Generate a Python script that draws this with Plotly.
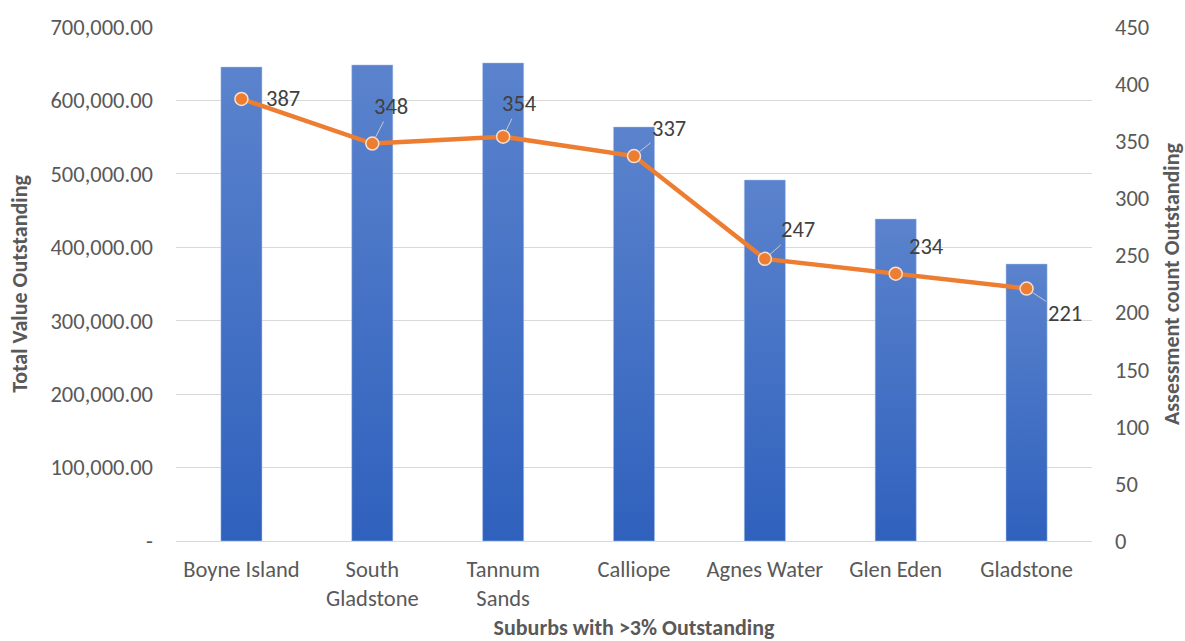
import plotly.graph_objects as go

# Suburbs and their outstanding figures
suburbs = ["Boyne Island", "South Gladstone", "Tannum Sands", "Calliope",
           "Agnes Water", "Glen Eden", "Gladstone"]
tick_text = ["Boyne Island", "South<br>Gladstone", "Tannum<br>Sands", "Calliope",
             "Agnes Water", "Glen Eden", "Gladstone"]
total_value = [645500, 648300, 651000, 563800, 491600, 438500, 377200]
assessment_count = [387, 348, 354, 337, 247, 234, 221]

left_ticks = [0, 100000, 200000, 300000, 400000, 500000, 600000, 700000]
left_tick_text = ["-" if v == 0 else f"{v:,.2f}" for v in left_ticks]

FONT = "Carlito, Lato, sans-serif"
GREY = "#595959"
TICK_SIZE = 22.5
TITLE_SIZE = 22
BAR_HALF = 0.157

fig = go.Figure()

# Columns drawn as filled polygons so each can carry a vertical gradient
for i, (name, val) in enumerate(zip(suburbs, total_value)):
    fig.add_trace(go.Scatter(
        x=[i - BAR_HALF, i + BAR_HALF, i + BAR_HALF, i - BAR_HALF, i - BAR_HALF],
        y=[0, 0, val, val, 0],
        mode="lines", fill="toself",
        line=dict(width=0.6, color="rgba(170,195,235,0.8)"),
        fillgradient=dict(type="vertical",
                          colorscale=[[0, "#2F61BD"], [1, "#5B83CD"]]),
        name=name, showlegend=False, hoverinfo="skip",
        xaxis="x", yaxis="y",
    ))

fig.add_trace(go.Scatter(
    x=list(range(len(suburbs))), y=assessment_count,
    mode="lines+markers",
    line=dict(color="#ED7D31", width=4.5),
    marker=dict(size=13, color="#ED7D31",
                line=dict(color="rgba(255,235,220,0.9)", width=1.5)),
    yaxis="y2", showlegend=False,
))

# Data labels: (x shift, y shift, leader line)
label_offsets = [(42, 0, False), (19, -37, True), (16, -33, True), (35, -28, True),
                 (33, -29, True), (31, -27, False), (38, 25, True)]
for i, (cnt, (dx, dy, lead)) in enumerate(zip(assessment_count, label_offsets)):
    common = dict(x=i, y=cnt, xref="x", yref="y2", text=str(cnt),
                  font=dict(family=FONT, size=TICK_SIZE, color="#404040"))
    if lead:
        fig.add_annotation(**common, showarrow=True, arrowhead=0, arrowwidth=1,
                           arrowcolor="#c8c8c8", ax=dx, ay=dy, standoff=6)
    else:
        fig.add_annotation(**common, showarrow=False, xshift=dx, yshift=-dy)

fig.update_layout(
    width=1185, height=641,
    margin=dict(l=176, r=93, t=27, b=100),
    paper_bgcolor="white", plot_bgcolor="white",
    font=dict(family=FONT, color=GREY),
    xaxis=dict(
        range=[-0.5, len(suburbs) - 0.5], automargin=False,
        tickmode="array", tickvals=list(range(len(suburbs))), ticktext=tick_text,
        tickfont=dict(size=TICK_SIZE, color=GREY), ticklabelstandoff=8,
        showgrid=False, zeroline=False,
        showline=True, linecolor="#d9d9d9", linewidth=1,
        title=dict(text="<b>Suburbs with >3% Outstanding</b>",
                   font=dict(size=TITLE_SIZE, color=GREY), standoff=13),
    ),
    yaxis=dict(
        range=[0, 700000], automargin=False,
        tickmode="array", tickvals=left_ticks, ticktext=left_tick_text,
        tickfont=dict(size=TICK_SIZE, color=GREY), ticklabelstandoff=22,
        showgrid=True, gridcolor="#d9d9d9", gridwidth=1, zeroline=False,
        title=dict(text="<b>Total Value Outstanding</b>",
                   font=dict(size=TITLE_SIZE, color=GREY), standoff=16),
    ),
    yaxis2=dict(
        range=[0, 450], dtick=50, overlaying="y", side="right", automargin=False,
        tickfont=dict(size=TICK_SIZE, color=GREY), ticklabelstandoff=22,
        showgrid=False, zeroline=False,
        title=dict(text="<b>Assessment count Outstanding</b>",
                   font=dict(size=TITLE_SIZE, color=GREY), standoff=19),
    ),
)

fig.write_html("out.html")
